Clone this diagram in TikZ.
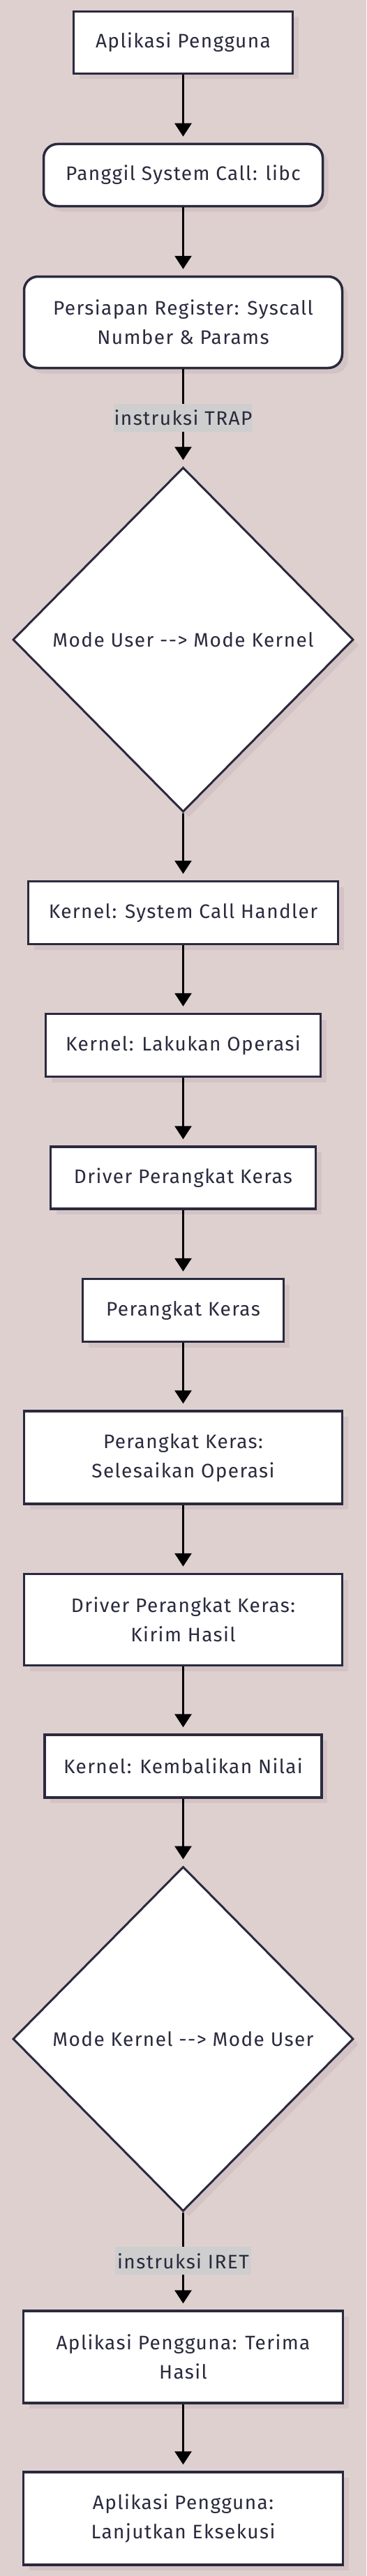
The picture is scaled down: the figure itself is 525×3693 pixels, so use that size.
\documentclass[tikz,border=0pt]{standalone}
\usepackage{fontspec}
\setmainfont[LetterSpace=5]{Fira Sans}
\usetikzlibrary{shapes.geometric,shadows,arrows.meta}
\definecolor{bgc}{RGB}{223,208,208}
\definecolor{shc}{RGB}{211,195,197}
\definecolor{edgec}{RGB}{42,42,62}
\definecolor{txtc}{RGB}{42,42,62}
\definecolor{lblc}{RGB}{206,206,206}
\begin{document}
\begin{tikzpicture}[x=1pt,y=-1pt,
  txt/.style={text=txtc, font=\fontsize{28}{42}\selectfont},
  box/.style={txt, draw=edgec, line width=3.5pt, fill=white, align=center, inner sep=0pt,
    drop shadow={shadow xshift=8pt, shadow yshift=-8pt, fill=shc, opacity=1}},
  rbox/.style={box, rounded corners=20pt},
  dec/.style={box, diamond, line width=3pt},
  lbl/.style={txt, fill=lblc, inner sep=0pt, minimum height=40pt, minimum width=199pt},
  arr/.style={-{Triangle[width=24pt,length=19pt]}, line width=3pt, black, shorten >=9pt}]
\fill[bgc] (0,0) rectangle (525,3693);
\useasboundingbox (0,0) rectangle (525,3693);

\node[box, minimum width=314pt, minimum height=89pt] (b1) at (262.5,61) {Aplikasi Pengguna};
\node[rbox, minimum width=400pt, minimum height=89pt] (b2) at (262.5,251) {Panggil System Call: libc};
\node[rbox, minimum width=456pt, minimum height=131pt] (b3) at (262.5,462) {Persiapan Register: Syscall\\Number \& Params};
\node[dec, minimum width=488pt, minimum height=494pt] (d1) at (262.5,917) {Mode User -{}-{}> Mode Kernel};
\node[box, minimum width=444pt, minimum height=90pt] (b4) at (262.5,1308.5) {Kernel: System Call Handler};
\node[box, minimum width=394pt, minimum height=90pt] (b5) at (262.5,1498.5) {Kernel: Lakukan Operasi};
\node[box, minimum width=380pt, minimum height=89pt] (b6) at (262.5,1688.5) {Driver Perangkat Keras};
\node[box, minimum width=288pt, minimum height=90pt] (b7) at (262.5,1878.5) {Perangkat Keras};
\node[box, minimum width=456pt, minimum height=133pt] (b8) at (262.5,2089.5) {Perangkat Keras:\\Selesaikan Operasi};
\node[box, minimum width=456pt, minimum height=131pt] (b9) at (262.5,2322) {Driver Perangkat Keras:\\Kirim Hasil};
\node[box, minimum width=397pt, minimum height=90pt] (b10) at (262.5,2532) {Kernel: Kembalikan Nilai};
\node[dec, minimum width=488pt, minimum height=494pt] (d2) at (262.5,2923) {Mode Kernel -{}-{}> Mode User};
\node[box, minimum width=458pt, minimum height=132pt] (b11) at (262.5,3379) {Aplikasi Pengguna: Terima\\Hasil};
\node[box, minimum width=458pt, minimum height=133pt] (b12) at (262.5,3610.5) {Aplikasi Pengguna:\\Lanjutkan Eksekusi};

\draw[arr] (b1) -- (b2);
\draw[arr] (b2) -- (b3);
\draw[arr] (b3) -- node[lbl] {instruksi TRAP} (d1);
\draw[arr] (d1) -- (b4);
\draw[arr] (b4) -- (b5);
\draw[arr] (b5) -- (b6);
\draw[arr] (b6) -- (b7);
\draw[arr] (b7) -- (b8);
\draw[arr] (b8) -- (b9);
\draw[arr] (b9) -- (b10);
\draw[arr] (b10) -- (d2);
\draw[arr] (d2) -- node[lbl, minimum width=195pt] {instruksi IRET} (b11);
\draw[arr] (b11) -- (b12);
\end{tikzpicture}
\end{document}
